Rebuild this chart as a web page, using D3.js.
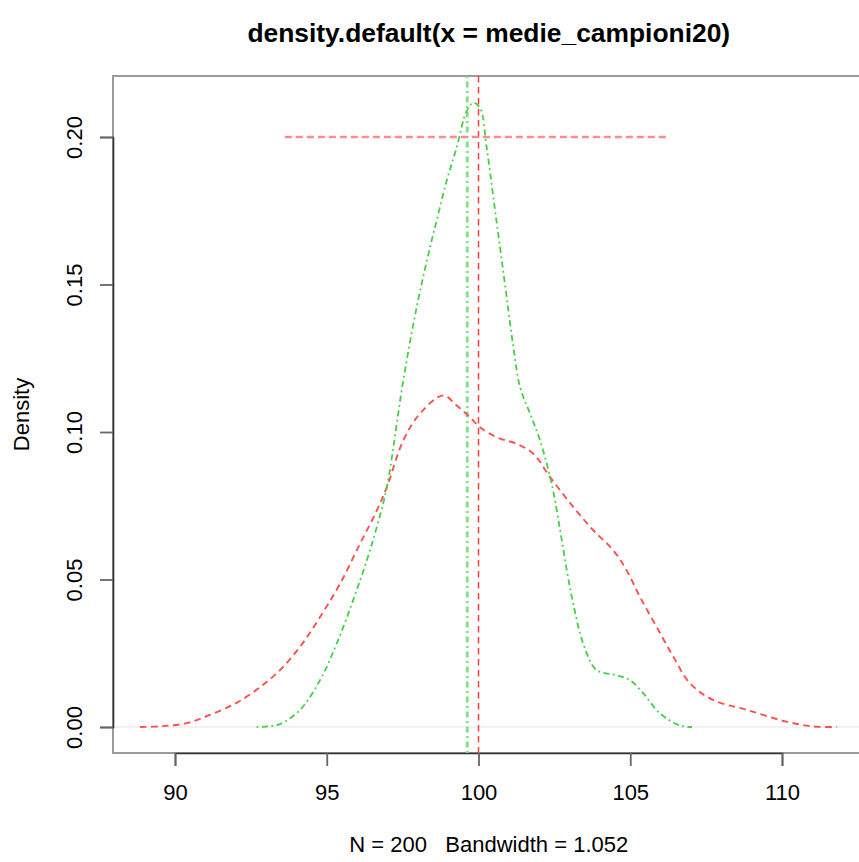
<!DOCTYPE html>
<html>
<head>
<meta charset="utf-8">
<script src="https://cdn.jsdelivr.net/npm/d3@7"></script>
<style>
  html, body { margin: 0; padding: 0; background: #fff; }
  text { font-family: "Liberation Sans", Arial, Helvetica, sans-serif; fill: #000; }
</style>
</head>
<body>
<svg id="chart" width="859" height="862"></svg>
<script>
// ---- data ----
const redX = [88.85, 89.60, 90.39, 91.15, 92.03, 92.80, 93.46, 94.12, 94.78, 95.44, 96.10, 96.65, 96.98, 97.52, 98.07, 98.84, 99.28, 99.72, 100.05, 100.60, 101.26, 101.81, 102.36, 103.12, 103.78, 104.44, 104.88, 105.32, 105.87, 106.42, 106.97, 107.74, 108.84, 110.15, 111.03, 111.80];
const redY = [0, 0.0003, 0.0013, 0.0041, 0.0082, 0.0135, 0.0193, 0.0272, 0.0373, 0.0486, 0.0622, 0.0734, 0.0813, 0.0971, 0.1062, 0.1124, 0.1090, 0.1050, 0.1016, 0.0982, 0.0960, 0.0926, 0.0847, 0.0746, 0.0667, 0.0599, 0.0531, 0.0441, 0.0339, 0.0238, 0.0148, 0.0091, 0.0058, 0.0018, 0.0002, 0];
const greenX = [92.69, 93.05, 93.46, 94.12, 94.78, 95.33, 95.87, 96.32, 96.65, 96.98, 97.52, 97.96, 98.40, 98.62, 98.95, 99.28, 99.61, 99.83, 100.05, 100.27, 100.49, 100.71, 100.93, 101.15, 101.37, 101.70, 102.03, 102.41, 102.69, 102.91, 103.12, 103.45, 103.89, 104.55, 104.99, 105.43, 105.98, 106.64, 107.03];
const greenY = [0, 0.0002, 0.0010, 0.0058, 0.0159, 0.0283, 0.0430, 0.0565, 0.0678, 0.0813, 0.1174, 0.1422, 0.1625, 0.1716, 0.1851, 0.1964, 0.2088, 0.2116, 0.2099, 0.1964, 0.1795, 0.1625, 0.1456, 0.1287, 0.1152, 0.1062, 0.0971, 0.0825, 0.0667, 0.0531, 0.0419, 0.0283, 0.0193, 0.0176, 0.0159, 0.0114, 0.0046, 0.0005, 0];
const redVLine = 100.0;
const greenVLine = 99.63;
const redHLineY = 0.20;
const redHLineX = [93.62, 106.24];
const xTicks = [90, 95, 100, 105, 110];
const yTicks = [0.00, 0.05, 0.10, 0.15, 0.20];
const yTickLabels = ["0.00", "0.05", "0.10", "0.15", "0.20"];
const xDomain = [87.96, 112.72];
const yDomain = [-0.00848, 0.2206];
const titleText = "density.default(x = medie_campioni20)";
const xLabelText = "N = 200   Bandwidth = 1.052";
const yLabelText = "Density";

// ---- layout ----
const plot = { left: 113, top: 76, bottom: 753 };
const svg = d3.select("#chart");
const x = d3.scaleLinear().domain([90, 110]).range([175, 782]);
const plotRight = x(xDomain[1]);
const y = d3.scaleLinear().domain([0, 0.2]).range([727, 137]);

// zero line
svg.append("line")
  .attr("x1", plot.left).attr("x2", plotRight)
  .attr("y1", y(0)).attr("y2", y(0))
  .attr("stroke", "#e6e6e6").attr("stroke-width", 1.2);

// box
svg.append("rect")
  .attr("x", plot.left).attr("y", plot.top)
  .attr("width", plotRight - plot.left).attr("height", plot.bottom - plot.top)
  .attr("fill", "none").attr("stroke", "#9a9a9a").attr("stroke-width", 2);

// axes
const xAxis = d3.axisBottom(x).tickValues(xTicks).tickSize(13).tickPadding(18).tickFormat(d3.format("d"));
const gx = svg.append("g").attr("transform", `translate(0,${plot.bottom})`).call(xAxis);
gx.select(".domain").attr("stroke", "#333").attr("stroke-width", 1.6);
gx.selectAll(".tick line").attr("stroke", "#666").attr("stroke-width", 1.8);
gx.selectAll(".tick text").attr("font-size", 22).attr("font-family", "Liberation Sans, Arial, sans-serif").attr("fill", "#111");

const yAxis = d3.axisLeft(y).tickValues(yTicks).tickSize(13).tickFormat((d, i) => yTickLabels[i]);
const gy = svg.append("g").attr("transform", `translate(${plot.left},0)`).call(yAxis);
gy.select(".domain").attr("stroke", "#333").attr("stroke-width", 1.6);
gy.selectAll(".tick line").attr("stroke", "#666").attr("stroke-width", 1.8);
gy.selectAll(".tick text")
  .attr("font-size", 22).attr("font-family", "Liberation Sans, Arial, sans-serif").attr("fill", "#111")
  .attr("x", null).attr("dy", null).attr("y", 0)
  .attr("text-anchor", "middle")
  .attr("transform", "translate(-31,0) rotate(-90)");

// vertical reference lines
svg.append("line")
  .attr("x1", x(greenVLine)).attr("x2", x(greenVLine))
  .attr("y1", plot.top).attr("y2", plot.bottom)
  .attr("stroke", "#86de86").attr("stroke-width", 2.8)
  .attr("stroke-dasharray", "2,3.5,6,3.5");
svg.append("line")
  .attr("x1", x(redVLine)).attr("x2", x(redVLine))
  .attr("y1", plot.top).attr("y2", plot.bottom)
  .attr("stroke", "#ff3b3b").attr("stroke-width", 1.5)
  .attr("stroke-dasharray", "6.5,4.5");

// horizontal red line
svg.append("line")
  .attr("x1", x(redHLineX[0])).attr("x2", x(redHLineX[1]))
  .attr("y1", y(redHLineY)).attr("y2", y(redHLineY))
  .attr("stroke", "#ff8c8c").attr("stroke-width", 2.4)
  .attr("stroke-dasharray", "7,4");

// density curves
const line = d3.line().x(d => x(d[0])).y(d => y(d[1])).curve(d3.curveCatmullRom.alpha(0.5));
const redPts = redX.map((v, i) => [v, redY[i]]);
const greenPts = greenX.map((v, i) => [v, greenY[i]]);
svg.append("path").attr("d", line(redPts))
  .attr("fill", "none").attr("stroke", "#ff5050").attr("stroke-width", 1.9)
  .attr("stroke-dasharray", "6.5,4.5");
svg.append("path").attr("d", line(greenPts))
  .attr("fill", "none").attr("stroke", "#45cf45").attr("stroke-width", 1.8)
  .attr("stroke-dasharray", "1.8,3.5,6,3.5");

// titles
const cx = (plot.left + plotRight) / 2;
svg.append("text").attr("x", cx).attr("y", 41.5)
  .attr("text-anchor", "middle").attr("font-size", 26.4).attr("font-weight", "bold")
  .text(titleText);
svg.append("text").attr("x", cx).attr("y", 852)
  .attr("text-anchor", "middle").attr("font-size", 22)
  .attr("xml:space", "preserve").style("white-space", "pre")
  .text(xLabelText);
svg.append("text")
  .attr("transform", `translate(29,${(plot.top + plot.bottom) / 2}) rotate(-90)`)
  .attr("text-anchor", "middle").attr("font-size", 22)
  .text(yLabelText);
</script>
</body>
</html>
